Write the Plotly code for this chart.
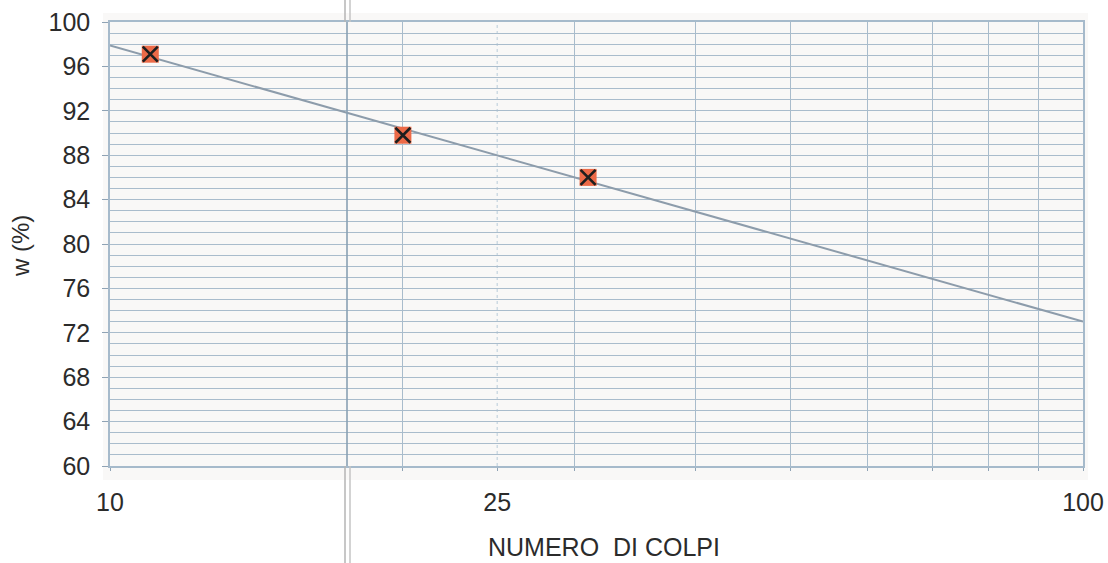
import numpy as np
import plotly.graph_objects as go

# Liquid-limit test: water content vs. number of blows
colpi = [11, 20, 31]
umidita = [97.1, 89.8, 86.0]

x_tick_vals = [10, 25, 100]
x_tick_text = ["10", "25", "100"]
x_grid_vals = [10, 20, 30, 40, 50, 60, 70, 80, 90, 100]
y_tick_vals = list(range(60, 101, 4))

# Semi-log least-squares line: w = a + b*log10(N)
b, a = np.polyfit(np.log10(colpi), umidita, 1)
n_line = np.array([x_grid_vals[0], x_grid_vals[-1]])
w_line = a + b * np.log10(n_line)

FONT = "Liberation Sans, Arial, sans-serif"
TEXT = "#2b2b2b"
GRID = "#a9bccc"
W, H = 1108, 563
L, R, T, B = 110, 25, 22, 97
PW, PH = W - L - R, H - T - B


def px_x(p):
    return (p - L) / PW


def px_y(p):
    return (H - B - p) / PH


fig = go.Figure()

fig.add_trace(go.Scatter(
    x=n_line, y=w_line, mode="lines",
    line=dict(color="#8d9cab", width=2),
    hoverinfo="skip", showlegend=False,
))
fig.add_trace(go.Scatter(
    x=colpi, y=umidita, mode="markers",
    marker=dict(symbol="square", size=17, color="#ec6a48",
                line=dict(width=0)),
    hoverinfo="skip", showlegend=False,
))
fig.add_trace(go.Scatter(
    x=colpi, y=umidita, mode="markers",
    marker=dict(symbol="x-thin-open", size=15, color="#1e1e1e",
                line=dict(width=2.6, color="#1e1e1e")),
    hoverinfo="skip", showlegend=False,
))

shapes = [
    # chart area backdrop, slightly larger than the plot frame
    dict(type="rect", xref="paper", yref="paper",
         x0=px_x(103), x1=px_x(1088), y0=px_y(480), y1=px_y(13),
         fillcolor="#f9f8f7", line=dict(width=0), layer="below"),
    # faint dotted rule at N = 25
    dict(type="line", xref="x", yref="paper", x0=25, x1=25, y0=0, y1=1,
         line=dict(color="#c4d2de", width=1.2, dash="dot"), layer="below"),
    # fold mark crossing the sheet
    dict(type="line", xref="paper", yref="paper",
         x0=px_x(347), x1=px_x(347), y0=0, y1=1,
         line=dict(color="#8aa0b3", width=1.6)),
    dict(type="line", xref="paper", yref="paper",
         x0=px_x(345), x1=px_x(345), y0=px_y(563), y1=0,
         line=dict(color="#b4b4b4", width=1.5)),
    dict(type="line", xref="paper", yref="paper",
         x0=px_x(350), x1=px_x(350), y0=px_y(563), y1=0,
         line=dict(color="#c4c4c4", width=1.5)),
    dict(type="line", xref="paper", yref="paper",
         x0=px_x(345), x1=px_x(345), y0=1, y1=px_y(0),
         line=dict(color="#b4b4b4", width=1.5)),
    dict(type="line", xref="paper", yref="paper",
         x0=px_x(350), x1=px_x(350), y0=1, y1=px_y(0),
         line=dict(color="#c4c4c4", width=1.5)),
]

annotations = [
    dict(text="NUMERO \u00a0DI COLPI", xref="paper", yref="paper",
         x=px_x(604), y=px_y(547), xanchor="center", yanchor="middle",
         showarrow=False, borderpad=0,
         font=dict(family=FONT, size=25, color=TEXT)),
    dict(text="w (%)", xref="paper", yref="paper", textangle=-90,
         x=px_x(21), y=px_y(246), xanchor="center", yanchor="middle",
         showarrow=False, font=dict(family=FONT, size=24, color=TEXT)),
]

fig.update_layout(
    width=W, height=H,
    margin=dict(l=L, r=R, t=T, b=B, autoexpand=False),
    paper_bgcolor="white", plot_bgcolor="#f9f8f7",
    showlegend=False,
    shapes=shapes, annotations=annotations,
    font=dict(family=FONT, color=TEXT),
    xaxis=dict(
        type="log", range=[1, 2],
        tickmode="array", tickvals=x_tick_vals, ticktext=x_tick_text,
        tickfont=dict(family=FONT, size=25, color=TEXT),
        ticks="outside", ticklen=3, tickcolor="#8fa3b5",
        ticklabelstandoff=10,
        showgrid=False, zeroline=False,
        showline=True, linecolor="#a6bacb", linewidth=1.5, mirror=True,
        minor=dict(tickmode="array", tickvals=x_grid_vals, showgrid=True,
                   gridcolor=GRID, gridwidth=1, ticks="outside",
                   ticklen=3, tickcolor="#8fa3b5"),
    ),
    yaxis=dict(
        range=[60, 100], tickmode="array", tickvals=y_tick_vals,
        tickfont=dict(family=FONT, size=25, color=TEXT),
        ticks="outside", ticklen=6, tickcolor="#8fa3b5",
        ticklabelstandoff=7,
        showgrid=True, gridcolor=GRID, gridwidth=1, zeroline=False,
        showline=True, linecolor="#a6bacb", linewidth=1.5, mirror=True,
        minor=dict(dtick=1, tick0=60, showgrid=True, gridcolor=GRID,
                   gridwidth=1),
    ),
)

fig.write_html("out.html")
